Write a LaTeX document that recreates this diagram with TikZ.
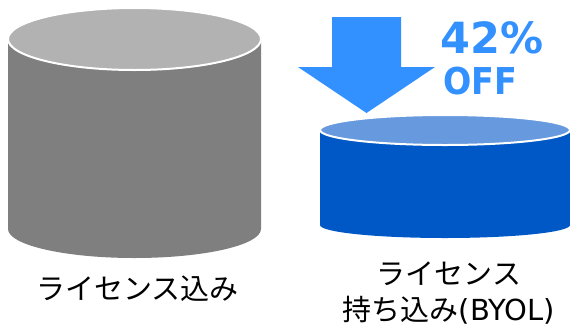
\documentclass[tikz,border=0pt]{standalone}
\usepackage{fontspec}
\newfontfamily\jpfont{Noto Sans CJK JP}
\newfontfamily\offfont{DejaVu Sans}
\definecolor{graySide}{HTML}{7F7F7F}
\definecolor{grayTop}{HTML}{B2B2B2}
\definecolor{blueSide}{HTML}{0058C6}
\definecolor{blueTop}{HTML}{6699DD}
\definecolor{arrowBlue}{HTML}{3390FF}
\tikzset{
  toprim/.style={draw=white, line width=2pt},
  jplabel/.style={font=\jpfont\fontsize{29}{36}\selectfont, align=center, inner sep=0pt, text=black},
  offlabel/.style={font=\offfont\bfseries, text=arrowBlue, inner sep=0pt, anchor=west}
}
\begin{document}
\begin{tikzpicture}[x=1pt,y=-1pt]
\useasboundingbox (0,0) rectangle (570,327);
% left cylinder
\fill[graySide] (8,39) -- (8,229) arc[start angle=180, end angle=0, x radius=126.5, y radius=29] -- (261,39) -- cycle;
\path[fill=grayTop, toprim] (134.5,39) ellipse [x radius=126.5, y radius=31];
% right cylinder
\fill[blueSide] (320,130) -- (320,225) arc[start angle=180, end angle=0, x radius=125, y radius=13] -- (570,130) -- cycle;
\path[fill=blueTop, toprim] (445,130) ellipse [x radius=125, y radius=15];
% arrow
\fill[arrowBlue] (332,17) -- (401,17) -- (401,67) -- (435,67) -- (366.5,113) -- (298,67) -- (332,67) -- cycle;
% texts
\node[offlabel, font=\offfont\bfseries\fontsize{43}{43}\selectfont] (pct) at (440,38) {42\%};
\node[offlabel, font=\offfont\bfseries\fontsize{37}{37}\selectfont, xscale=0.9] (off) at (443,81) {OFF};
\node[jplabel] (lbl1) at (137.5,288.5) {ライセンス込み};
\node[jplabel] (lbl2) at (449,293) {ライセンス\\持ち込み{\offfont(BYOL)}};
\end{tikzpicture}
\end{document}
